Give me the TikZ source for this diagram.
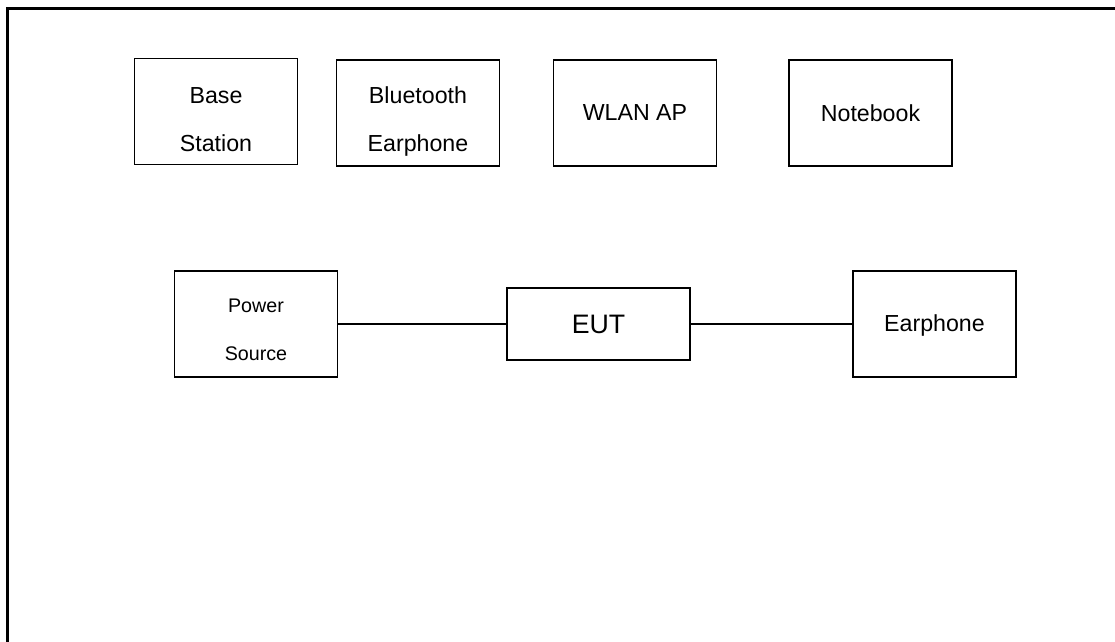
\documentclass[tikz,border=0pt]{standalone}
\usepackage{fontspec}
\setmainfont{Liberation Sans}

\begin{document}
\begin{tikzpicture}
\tikzset{boite/.style={draw, line width=0.9pt, minimum width=4.075cm, minimum height=2.65cm, inner sep=0pt, align=center, font=\fontsize{16.5}{34}\selectfont}}
\useasboundingbox (0,0) rectangle (27.875,16.05);
\clip (0,0) rectangle (27.875,16.05);
\draw[line width=2.2pt] (0.19,-1) rectangle (29,15.83);
\node[boite] (BS) at (5.4,13.2625) {\rule{0pt}{0.815cm}Base\\Station};
\node[boite] (BE) at (10.45,13.225) {\rule{0pt}{0.85cm}Bluetooth\\Earphone};
\node[boite] (AP) at (15.875,13.225) {WLAN AP};
\node[boite] (NB) at (21.7625,13.225) {Notebook};
\node[boite, font=\fontsize{14}{34}\selectfont] (PS) at (6.4,7.95) {\rule{0pt}{0.65cm}Power\\Source};
\node[boite, minimum width=4.575cm, minimum height=1.8cm, font=\fontsize{19}{23}\selectfont] (EUT) at (14.9625,7.95) {EUT};
\node[boite] (EP) at (23.3625,7.95) {\rule{0pt}{0.5cm}Earphone};
\draw[line width=0.9pt] (PS) -- (EUT);
\draw[line width=0.9pt] (EUT) -- (EP);
\end{tikzpicture}
\end{document}
